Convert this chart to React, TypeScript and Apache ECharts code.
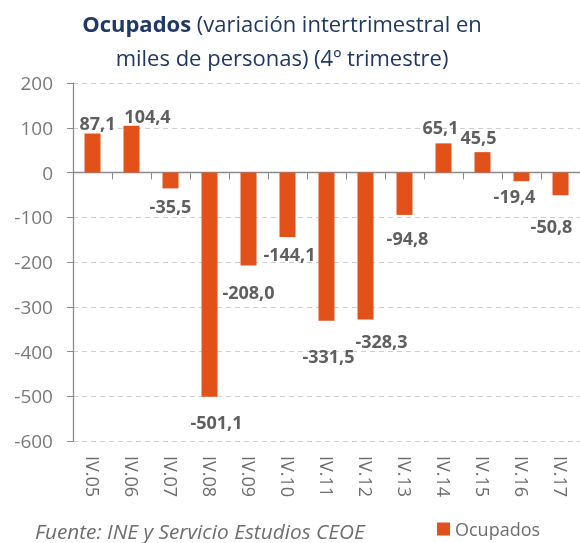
import React, { useEffect, useRef } from "react";
import * as echarts from "echarts";

const categories = ["IV.05", "IV.06", "IV.07", "IV.08", "IV.09", "IV.10", "IV.11", "IV.12", "IV.13", "IV.14", "IV.15", "IV.16", "IV.17"];
const ocupados = [87.1, 104.4, -35.5, -501.1, -208.0, -144.1, -331.5, -328.3, -94.8, 65.1, 45.5, -19.4, -50.8];
const yTicks = { min: -600, max: 200, interval: 100 };
const seriesName = "Ocupados";
const titleBold = "Ocupados";
const titleRest1 = " (variación intertrimestral en";
const titleLine2 = "miles de personas) (4º trimestre)";
const sourceText = "Fuente: INE y Servicio Estudios CEOE";

// label placement tweaks (style, not data): [dx, distance from bar end]
const labelDx = [5, 16, 0, 7, 0, 2, 2, 16, 3, -3, -4, -7, -9];
const labelAway = [12, 11, 19, 26, 27, 18, 36, 23, 24, 17, 16, 16, 32];

const fmt = (v: number) => v.toFixed(1).replace(".", ",");

export default function App() {
  const ref = useRef<HTMLDivElement>(null);
  useEffect(() => {
    const chart = echarts.init(ref.current!, null, { renderer: "svg" });
    const font = "'Open Sans', sans-serif";
    chart.setOption({
      animation: false,
      textStyle: { fontFamily: font },
      title: {
        left: 277,
        top: 1,
        textAlign: "center",
        text: `{b|${titleBold}}{n|${titleRest1}}\n{n|${titleLine2}}`,
        textStyle: {
          fontWeight: "normal",
          rich: {
            b: { fontFamily: font, fontWeight: "bold", fontSize: 22, color: "#1f3864", lineHeight: 34 },
            n: { fontFamily: font, fontWeight: "normal", fontSize: 22, color: "#1f3864", lineHeight: 34 },
          },
        },
      },
      legend: {
        left: 437,
        top: 519,
        padding: 0,
        itemWidth: 13,
        itemHeight: 13,
        icon: "rect",
        itemGap: 6,
        textStyle: { fontFamily: font, fontSize: 18, lineHeight: 20, color: "#6e6e6e" },
        data: [seriesName],
      },
      graphic: [
        {
          type: "text",
          left: 35,
          top: 520,
          style: { text: sourceText, fontFamily: font, fontStyle: "italic", fontSize: 20.8, fill: "#6e6e6e" },
        },
      ],
      grid: { left: 73, top: 83, bottom: 102, right: -4, containLabel: false },
      xAxis: [
        {
          type: "category",
          data: categories,
          axisLine: { onZero: true, lineStyle: { color: "#8c8c8c", width: 1.3 } },
          axisTick: { show: true, length: 7, lineStyle: { color: "#8c8c8c" } },
          axisLabel: { show: false },
        },
        {
          type: "category",
          data: categories,
          position: "bottom",
          axisLine: { show: false, onZero: false },
          axisTick: { show: false },
          axisLabel: { rotate: -90, margin: 15, fontFamily: font, fontSize: 18, color: "#6e6e6e" },
        },
      ],
      yAxis: {
        type: "value",
        min: yTicks.min,
        max: yTicks.max,
        interval: yTicks.interval,
        axisLine: { show: true, lineStyle: { color: "#8c8c8c", width: 1.3 } },
        axisTick: { show: true, length: 6, lineStyle: { color: "#8c8c8c" } },
        axisLabel: { fontFamily: font, fontSize: 19, color: "#7a7a7a", margin: 20 },
        splitLine: { lineStyle: { color: "#cfcfcf", type: [5, 4] } },
      },
      series: [
        {
          name: seriesName,
          type: "bar",
          xAxisIndex: 0,
          barWidth: 16,
          itemStyle: { color: "#e2511a" },
          data: ocupados.map((v, i) => ({
            value: v,
            label: {
              show: true,
              position: v >= 0 ? "top" : "bottom",
              distance: labelAway[i] - 10,
              offset: [labelDx[i], 0],
              formatter: () => fmt(v),
              fontFamily: font,
              fontWeight: "bold",
              fontSize: 18,
              color: "#5f5f5f",
            },
          })),
        },
      ],
    });
    return () => chart.dispose();
  }, []);
  return <div ref={ref} style={{ position: "fixed", left: 0, top: 0, width: 580, height: 543 }} />;
}
